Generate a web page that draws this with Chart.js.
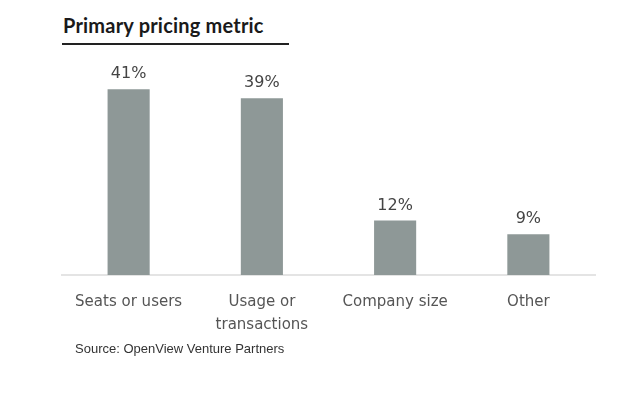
<!DOCTYPE html>
<html>
<head>
<meta charset="utf-8">
<script src="https://cdn.jsdelivr.net/npm/chart.js@4.4.1/dist/chart.umd.min.js"></script>
<style>
  body { margin: 0; background: #fff; width: 630px; height: 396px; position: relative; overflow: hidden; }
  #titulo { position: absolute; left: 63px; top: 13px; font: bold 20px Lato, sans-serif; color: #1a1a1a; letter-spacing: 0.2px; }
  #linea { position: absolute; left: 62px; top: 43px; width: 227px; height: 2px; background: #222; }
  #fuente { position: absolute; left: 75px; top: 341px; font: 13px "Liberation Sans", Arial, sans-serif; color: #333; }
  #caja { position: absolute; left: 0; top: 50px; width: 630px; height: 294px; }
</style>
</head>
<body>
<div id="titulo">Primary pricing metric</div>
<div id="linea"></div>
<div id="caja"><canvas id="grafico"></canvas></div>
<div id="fuente">Source: OpenView Venture Partners</div>
<script>
const categorias = ['Seats or users', ['Usage or', 'transactions'], 'Company size', 'Other'];
const porcentajes = [41, 39, 12, 9];
const yMax = 45;

// etiquetas de valor encima de cada barra
const etiquetas = {
  id: 'etiquetas',
  afterDatasetsDraw(chart) {
    const ctx = chart.ctx;
    const meta = chart.getDatasetMeta(0);
    ctx.save();
    ctx.font = '16px "DejaVu Sans", sans-serif';
    ctx.fillStyle = '#444';
    ctx.textAlign = 'center';
    ctx.textBaseline = 'bottom';
    meta.data.forEach((barra, i) => {
      ctx.fillText(porcentajes[i] + '%', barra.x, barra.y - 7);
    });
    ctx.restore();
  }
};

const ctx = document.getElementById('grafico').getContext('2d');
new Chart(ctx, {
  type: 'bar',
  data: {
    labels: categorias,
    datasets: [{
      data: porcentajes,
      backgroundColor: '#8e9897',
      categoryPercentage: 1,
      barPercentage: 0.316
    }]
  },
  options: {
    responsive: true,
    maintainAspectRatio: false,
    animation: false,
    layout: { padding: { left: 62, right: 35, top: 21, bottom: 0 } },
    plugins: {
      legend: { display: false },
      tooltip: { enabled: false }
    },
    scales: {
      y: { display: false, min: 0, max: yMax },
      x: {
        grid: { display: false },
        border: { color: '#e4e4e4', width: 2 },
        ticks: {
          color: '#555',
          font: { family: '"DejaVu Sans", sans-serif', size: 15, lineHeight: 1.5 },
          padding: 8,
          maxRotation: 0,
          autoSkip: false
        }
      }
    }
  },
  plugins: [etiquetas]
});
</script>
</body>
</html>
